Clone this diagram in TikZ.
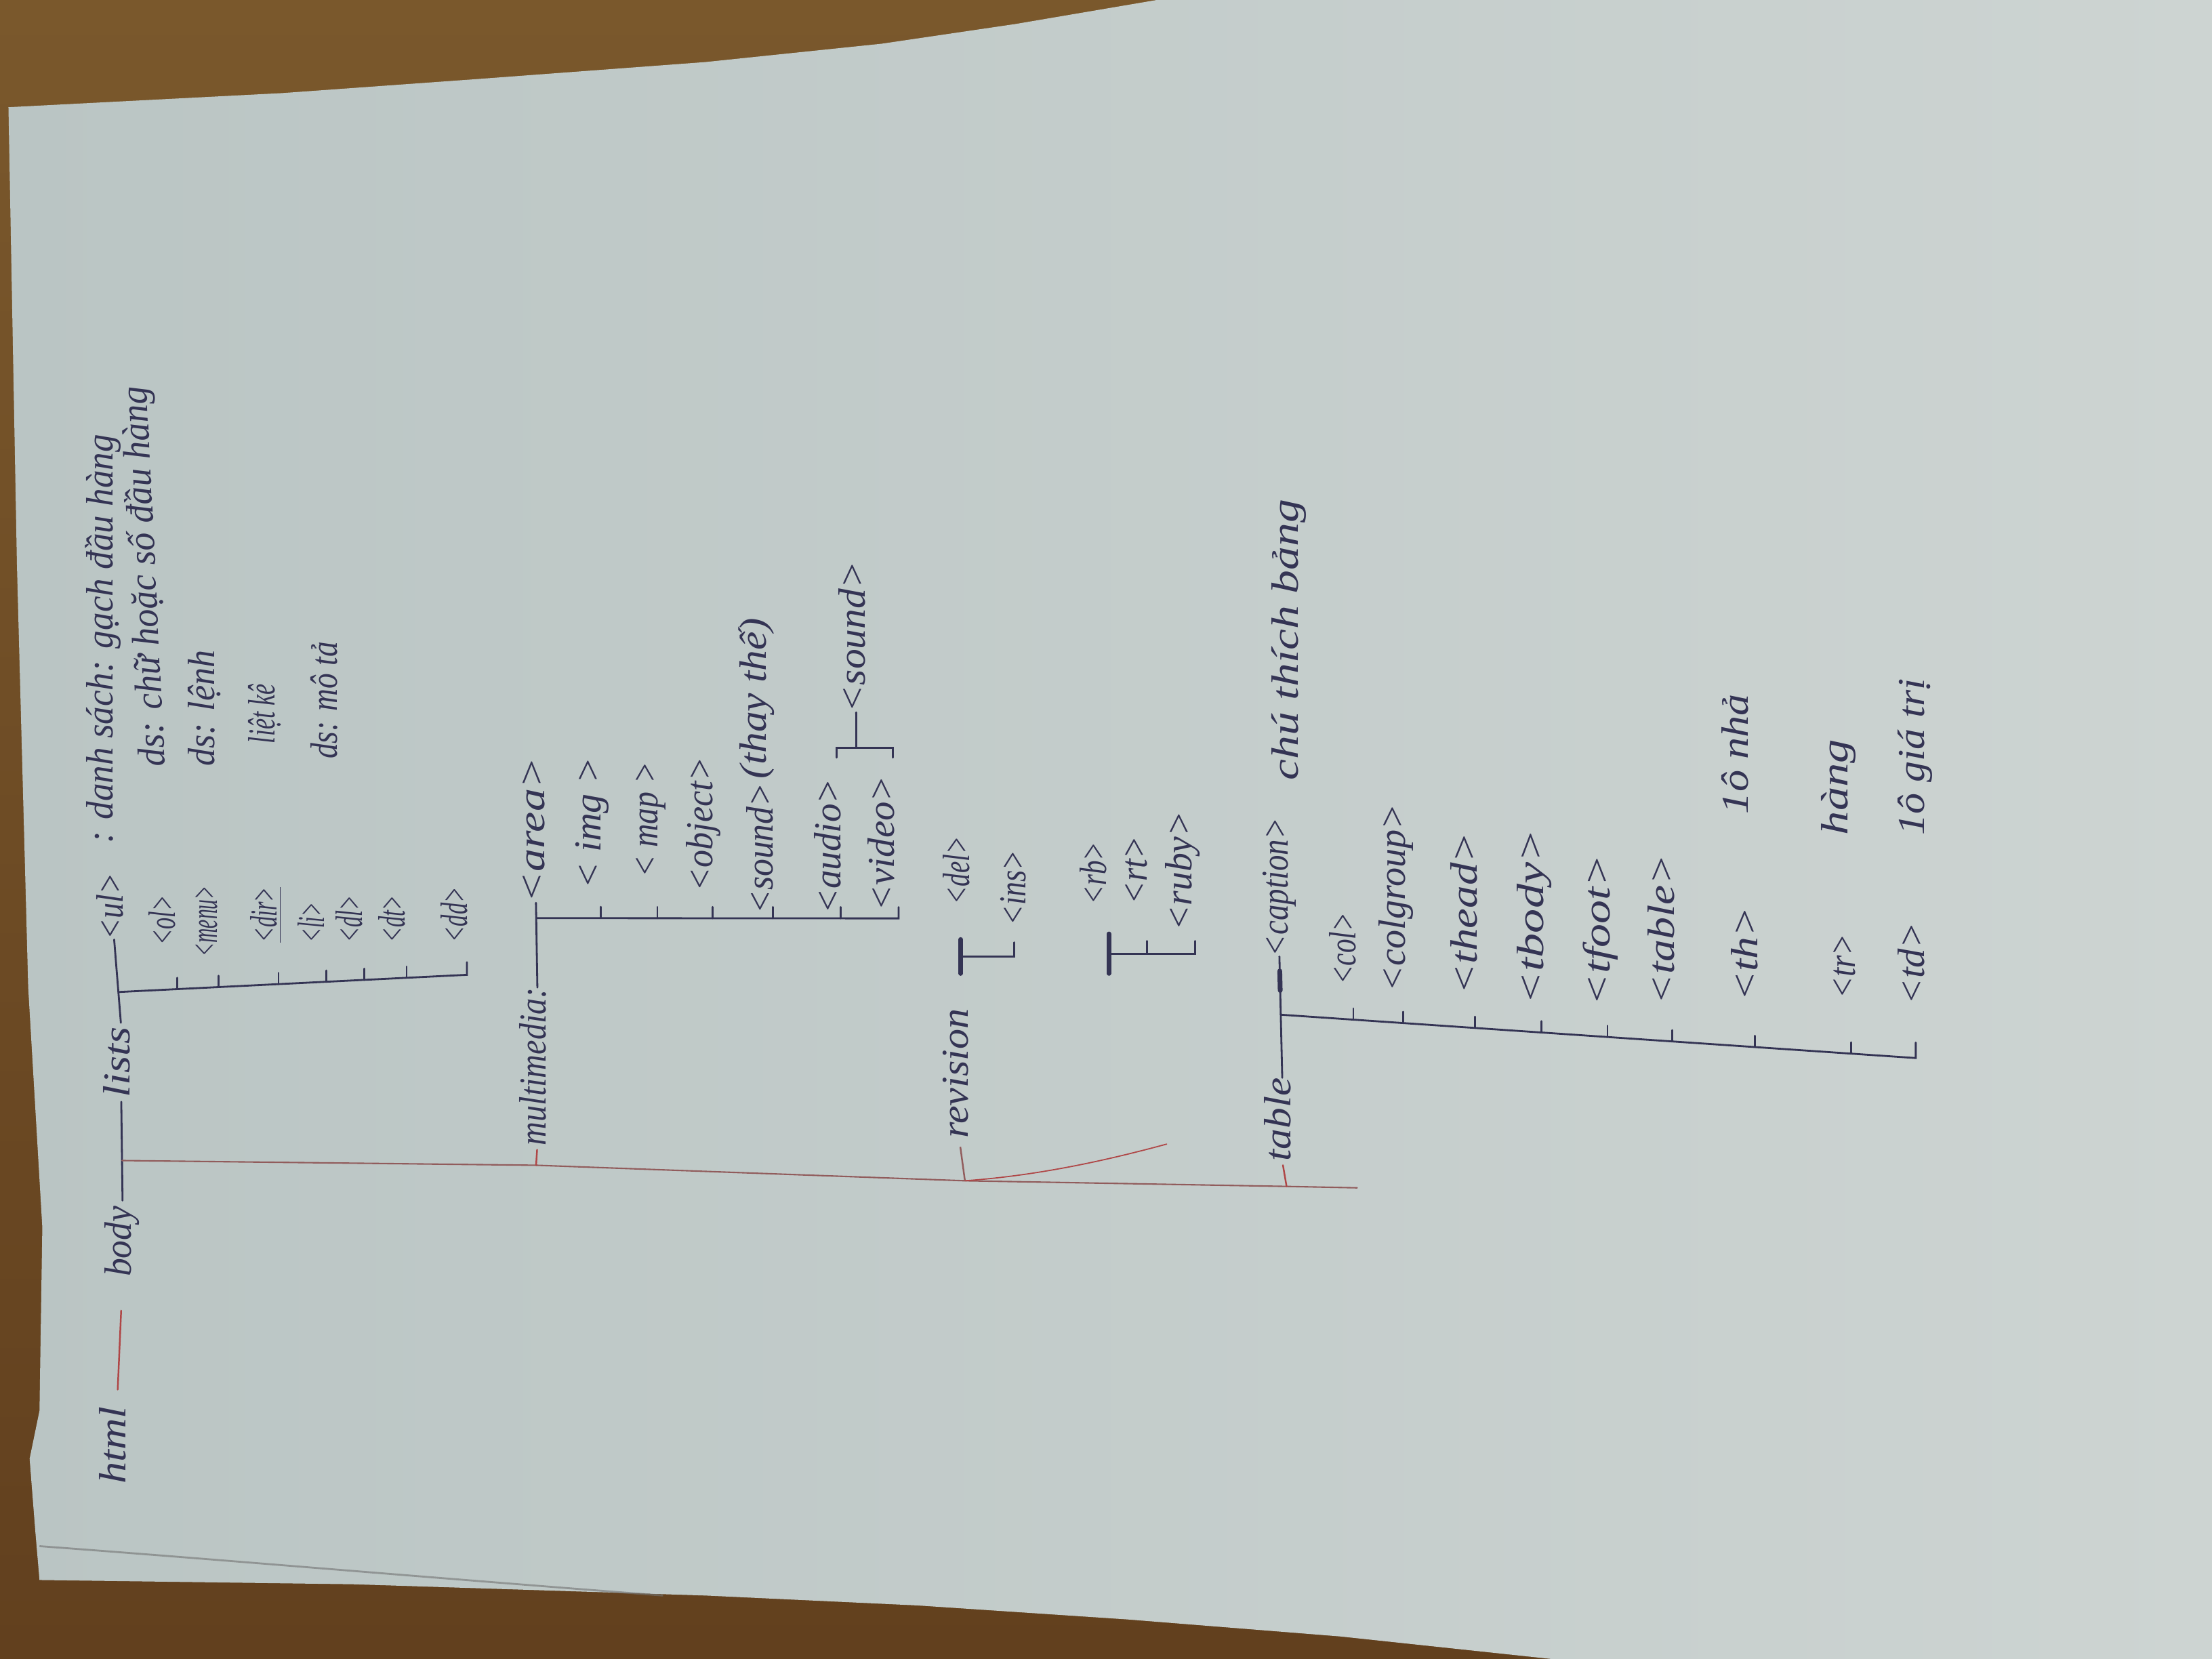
\documentclass[tikz,border=0pt]{standalone}
\usepackage{fontspec}
\setmainfont{Liberation Serif}
\usepackage{graphicx}
\usetikzlibrary{calc}
\newlength\hwu
\setlength\hwu{0.020816cm}
\newcommand\tx[2]{\resizebox{#1\hwu}{\height}{\itshape #2}\strut}
\definecolor{ink}{RGB}{52,52,84}
\definecolor{redink}{RGB}{175,70,70}
\definecolor{spinec}{RGB}{145,92,92}
\definecolor{paperL}{RGB}{186,197,196}
\definecolor{paperR}{RGB}{205,212,210}
\definecolor{woodT}{RGB}{122,88,44}
\definecolor{woodB}{RGB}{98,64,30}
\tikzset{
  hw/.style={rotate=90, anchor=base west, inner sep=0pt, outer sep=0pt, text=ink, font=\fontsize{16}{18}\selectfont},
  inkl/.style={draw=ink, line width=0.8pt, line cap=round},
  redl/.style={draw=redink, line width=0.7pt, line cap=round},
  spinel/.style={draw=spinec, line width=0.6pt, line cap=round},
  thickl/.style={draw=ink, line width=2pt, line cap=round},
  tickl/.style={draw=ink, line width=0.8pt, line cap=round}
}
\begin{document}
\begin{tikzpicture}[x=0.020816cm, y=-0.020816cm]
\useasboundingbox (0,0) rectangle (1568,1176);
% wood and paper
\shade[top color=woodT, bottom color=woodB] (0,0) rectangle (1568,1176);
\shade[left color=paperL, right color=paperR]
  (6,76) -- (200,66) -- (339,56) -- (500,44) -- (625,31) -- (720,17) -- (820,0)
  -- (1568,0) -- (1568,1176) -- (1100,1176) -- (950,1160) -- (800,1148) -- (650,1138)
  -- (500,1131) -- (250,1123) -- (28,1120) -- (25,1085) -- (21,1034) -- (28,1000)
  -- (30,870) -- (20,700) -- (12,400) -- cycle;
\draw[black!55, line width=0.8pt, opacity=0.6] (28,1096) .. controls (150,1105) and (300,1118) .. (470,1131);

% ---------- main spine ----------
\node[hw] (html) at (89,1052) {\tx{55}{html}};
\node[hw] (body) at (93,905) {\tx{50}{body}};
\draw[redl, shorten <=12\hwu, shorten >=24\hwu] (html.east) -- (body.west);
\node[hw] (lists) at (92,778) {\tx{50}{lists}};
\draw[inkl, shorten <=4\hwu, shorten >=3\hwu] (body.east) -- (lists.west);
\coordinate (bT) at ($(body.east)!0.42!(lists.west)$);
\coordinate (sM) at (380,826);
\coordinate (sR) at (684,837);
\coordinate (sT) at (912,841);
\coordinate (sEnd) at (962,842);
\draw[spinel] (bT) -- (sM) -- (sR) -- (sT) -- (sEnd);

% ---------- lists ----------
\node[hw] (ul) at (87,666) {\tx{47}{<ul>}};
\draw[inkl, shorten <=3\hwu] (lists.east) -- (ul.west);
\coordinate (lT) at ($(lists.east)!0.4!(ul.west)$);
\coordinate (lEnd) at (331,691);
\node[hw] (ol) at (124,670) {\tx{35}{<ol>}};
\node[hw] (menu) at (154,678) {\tx{50}{<menu>}};
\node[hw] (dir) at (196,668) {\tx{39}{\underline{<dir>}}};
\node[hw] (li) at (230,668) {\tx{28}{<li>}};
\node[hw] (dl) at (257,668) {\tx{33}{<dl>}};
\node[hw] (dt) at (287,668) {\tx{33}{<dt>}};
\node[hw] (dd) at (331,668) {\tx{39}{<dd>}};
\draw[inkl] (lT) -- (lEnd) -- ++(0,-9);
\foreach \c in {ol,menu,dir,li,dl,dt}
  \draw[tickl] ($(lT)!(\c.base west)!(lEnd)$) -- ++(0,-8);
\node[hw] (ulN) at (80,598) {\tx{290}{: danh sách: gạch đầu hàng}};
\node[hw, rotate=2.8] (olN) at (117,543) {\tx{270}{ds: chữ hoặc số đầu hàng}};
\node[hw] (menuN) at (152,543) {\tx{82}{ds: lệnh}};
\node[hw] (dirN) at (195,527) {\tx{42}{liệt kê}};
\node[hw] (dlN) at (239,538) {\tx{83}{ds: mô tả}};

% ---------- multimedia ----------
\node[hw] (mm) at (387,812) {\tx{112}{multimedia:}};
\draw[redl, shorten >=3\hwu] (sM) -- (mm.west);
\node[hw] (area) at (386,640) {\tx{103}{<area>}};
\draw[inkl] (mm.east) -- (area.west);
\coordinate (mT) at ($(mm.east)!0.82!(area.west)$);
\coordinate (mEnd) at (637,651);
\node[hw] (img) at (426,630) {\tx{93}{< img >}};
\node[hw] (map) at (466,622) {\tx{82}{< map >}};
\node[hw] (object) at (505,632) {\tx{95}{<object>}};
\node[hw] (sound) at (548,648) {\tx{93}{<sound>}};
\node[hw] (audio) at (596,648) {\tx{96}{<audio>}};
\node[hw] (video) at (634,646) {\tx{96}{<video>}};
\node[hw] (thay) at (543,552) {\tx{114}{(thay thế)}};
\draw[inkl] (mT) -- (mEnd) -- ++(0,-8);
\foreach \c in {img,map,object,sound,audio}
  \draw[tickl] ($(mT)!(\c.base west)!(mEnd)$) -- ++(0,-8);
\coordinate (bkA) at (593,537);
\coordinate (bkB) at (633,537);
\coordinate (bkM) at (607,530);
\draw[inkl] (bkA) -- ++(0,-7) -| (bkB);
\node[hw] (sound2) at (613,505) {\tx{107}{<sound>}};
\draw[inkl] (bkM) -- (sound2.west);

% ---------- revision ----------
\node[hw] (rev) at (686,807) {\tx{92}{revision}};
\draw[draw=spinec, line width=0.7pt, shorten >=6\hwu] (sR) -- (rev.west);
\coordinate (stray) at (827,811);
\draw[redl, line width=0.5pt] (sR) .. controls (740,833) and (790,821) .. (stray);
\node[hw] (del) at (687,641) {\tx{48}{<del>}};
\node[hw] (ins) at (727,656) {\tx{53}{<ins>}};
\coordinate (rT) at (681,678);
\coordinate (rEnd) at (719,678);
\draw[thickl] ($(rT)+(0,-12)$) -- ($(rT)+(0,12)$);
\draw[inkl] (rT) -- (rEnd) -- ++(0,-10);

% ---------- ruby ----------
\node[hw] (rb) at (784,641) {\tx{44}{<rb>}};
\node[hw] (rt) at (813,641) {\tx{48}{<rt>}};
\node[hw] (ruby) at (845,660) {\tx{85}{<ruby>}};
\coordinate (uT) at (786,676);
\coordinate (uEnd) at (847,676);
\draw[thickl] ($(uT)+(0,-14)$) -- ($(uT)+(0,14)$);
\draw[inkl] (uT) -- (uEnd) -- ++(0,-9);
\draw[tickl] ($(uT)!(rt.base west)!(uEnd)$) -- ++(0,-9);

% ---------- table ----------
\node[hw] (table) at (915,823) {\tx{59}{table}};
\draw[redl, shorten >=3\hwu] (sT) -- (table.west);
\node[hw] (caption) at (913,678) {\tx{98}{<caption>}};
\draw[inkl] (table.east) -- (caption.west);
\draw[thickl] ($(table.east)!0.72!(caption.west)$) -- ($(table.east)!0.88!(caption.west)$);
\coordinate (tT) at ($(table.east)!0.52!(caption.west)$);
\coordinate (tEnd) at (1358,750);
\node[hw] (col) at (961,698) {\tx{51}{<col>}};
\node[hw] (colgroup) at (996,703) {\tx{133}{<colgroup>}};
\node[hw] (thead) at (1047,705) {\tx{115}{<thead>}};
\node[hw] (tbody) at (1094,712) {\tx{124}{<tbody>}};
\node[hw] (tfoot) at (1141,713) {\tx{107}{<tfoot>}};
\node[hw] (table2) at (1187,712) {\tx{106}{<table>}};
\node[hw] (th) at (1246,710) {\tx{67}{<th>}};
\node[hw] (tr) at (1315,708) {\tx{46}{<tr>}};
\node[hw] (td) at (1364,712) {\tx{58}{<td>}};
\draw[inkl] (tT) -- (tEnd) -- ++(0,-11);
\foreach \c in {col,colgroup,thead,tbody,tfoot,table2,th,tr}
  \draw[tickl] ($(tT)!(\c.base west)!(tEnd)$) -- ++(0,-8);
\node[hw] (capN) at (920,553) {\tx{199}{chú thích bảng}};
\node[hw] (thN) at (1239,577) {\tx{85}{1ô nhả}};
\node[hw] (trN) at (1310,592) {\tx{68}{hàng}};
\node[hw] (tdN) at (1364,592) {\tx{111}{1ô giá trị}};
\end{tikzpicture}
\end{document}
